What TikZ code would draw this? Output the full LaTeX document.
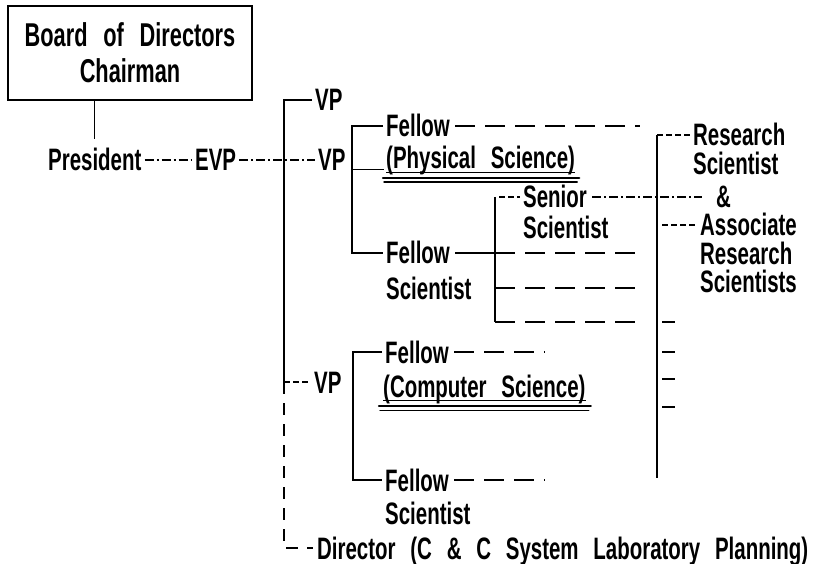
\documentclass[tikz,border=0pt]{standalone}
\usepackage{fontspec}
\newfontfamily\chartfont{Liberation Sans}[FakeStretch=0.66,WordSpace=2.6]

\begin{document}
\begin{tikzpicture}[x=1pt,y=-1pt,
    lbl/.style={font=\chartfont\bfseries\fontsize{31}{35}\selectfont, inner sep=0pt, anchor=west, text height=22pt, text depth=0pt},
    wire/.style={line width=1.1pt},
    gapline/.style={wire, dash pattern=on 20pt off 10pt},
    dotline/.style={wire, dash pattern=on 9pt off 3pt on 2pt off 3pt},
    shortdash/.style={wire, dash pattern=on 6pt off 3pt},
    vdash/.style={wire, dash pattern=on 12pt off 9pt}]
  \useasboundingbox (0,0) rectangle (817,564);

  % board and the line down to the vice presidents
  \node[draw, line width=1.1pt, minimum width=244pt, minimum height=94pt, inner sep=0pt, align=center,
    font=\chartfont\bfseries\fontsize{33}{36}\selectfont] (board) at (130,53) {Board of Directors\\Chairman};
  \node[lbl] (pres) at (48,160) {President};
  \node[lbl] (evp) at (195,160) {EVP};
  \coordinate (trunk) at (284,0);
  \node[lbl] (vpA) at (315,100) {VP};
  \node[lbl] (vpB) at (318,160) {VP};
  \node[lbl] (vpC) at (314,382) {VP};
  \node[lbl] (dir) at (317,548) {Director (C \& C System Laboratory Planning)};
  \draw[wire] (board.south -| pres.north) -- ([yshift=10pt]pres.north);
  \draw[dotline, shorten <=3pt, shorten >=4pt] (pres.east) -- (evp.west);
  \draw[dotline, shorten <=3pt, shorten >=3pt] (evp.east) -- (vpB.west);
  \draw[wire] ([xshift=-3pt]vpA.west) -| (trunk |- vpC.west);
  \draw[shortdash] (trunk |- vpC.west) -- ([xshift=-3pt]vpC.west);
  \draw[vdash] (trunk |- vpC.west) |- ([xshift=-4pt]dir.west);

  % physical science
  \coordinate (brA) at (352,0);
  \node[lbl] (felA) at (386,126) {Fellow};
  \node[lbl] (phys) at (386,158) {(Physical Science)};
  \node[lbl] (felB) at (386,253) {Fellow};
  \node[lbl] (sciB) at (386,288) {Scientist};
  \draw[wire] ([xshift=-3pt]felA.west) -| (brA |- felB.west) -- ([xshift=-3pt]felB.west);
  \draw[wire] (brA |- phys.south west) -- ([xshift=-2pt]phys.south west);
  \draw[line width=0.8pt] ([yshift=-3pt]phys.south west) -- ([yshift=-3pt]phys.south east);
  \draw[line width=2.4pt, line cap=round] ([shift={(-3pt,-9pt)}]phys.south west) -- ([shift={(4pt,-9pt)}]phys.south east);
  \draw[line width=1.4pt, line cap=round] ([shift={(-2pt,-13pt)}]phys.south west) -- ([shift={(2pt,-13pt)}]phys.south east);
  \coordinate (endA) at (640,126);
  \coordinate (endB) at (640,253);
  \draw[gapline] ([xshift=5pt]felA.east) -- (endA);

  % senior scientists
  \coordinate (brS) at (495,0);
  \node[lbl] (sen) at (523,197) {Senior};
  \node[lbl] (sciS) at (523,228) {Scientist};
  \coordinate (endS2) at (640,288);
  \coordinate (endS3) at (640,322);
  \draw[wire] (brS |- sen.west) -- (brS |- endS3);
  \draw[shortdash] ([xshift=4pt]brS |- sen.west) -- ([xshift=-3pt]sen.west);
  \draw[wire] ([xshift=5pt]felB.east) -- (brS |- endB);
  \draw[gapline] (brS |- endB) -- (endB);
  \draw[gapline] (brS |- endS2) -- (endS2);
  \draw[gapline] (brS |- endS3) -- (endS3);

  % research scientists
  \coordinate (brR) at (657,0);
  \coordinate (endR) at (657,478);
  \node[lbl] (resA) at (693,135) {Research};
  \node[lbl] (sciA) at (693,164) {Scientist};
  \node[lbl] (amp) at (716,197) {\&};
  \node[lbl] (assoc) at (700,225) {Associate};
  \node[lbl] (resB) at (700,254) {Research};
  \node[lbl] (sciC) at (700,282) {Scientists};
  \draw[wire] (brR |- resA.west) -- (endR);
  \draw[shortdash] (brR |- resA.west) -- ([xshift=-3pt]resA.west);
  \draw[dotline] ([xshift=5pt]sen.east) -- ([xshift=-14pt]amp.west);
  \draw[shortdash] ([xshift=5pt]brR |- assoc.west) -- ([xshift=-3pt]assoc.west);
  \foreach \y in {322,352,379,407}
    \draw[wire] (662,\y) -- (675,\y);

  % computer science
  \coordinate (brC) at (353,0);
  \node[lbl] (felC) at (385,352) {Fellow};
  \node[lbl] (comp) at (383,386) {(Computer Science)};
  \node[lbl] (felD) at (385,480) {Fellow};
  \node[lbl] (sciD) at (385,513) {Scientist};
  \draw[wire] ([xshift=-3pt]felC.west) -| (brC |- felD.west) -- ([xshift=-3pt]felD.west);
  \draw[line width=0.8pt] ([yshift=-3pt]comp.south west) -- ([yshift=-3pt]comp.south east);
  \draw[line width=2.4pt, line cap=round] ([shift={(-4pt,-9pt)}]comp.south west) -- ([shift={(5pt,-9pt)}]comp.south east);
  \draw[line width=1.4pt, line cap=round] ([shift={(-3pt,-13pt)}]comp.south west) -- ([shift={(3pt,-13pt)}]comp.south east);
  \coordinate (endC) at (545,352);
  \coordinate (endD) at (545,480);
  \draw[gapline] ([xshift=5pt]felC.east) -- (endC);
  \draw[gapline] ([xshift=5pt]felD.east) -- (endD);
\end{tikzpicture}
\end{document}
